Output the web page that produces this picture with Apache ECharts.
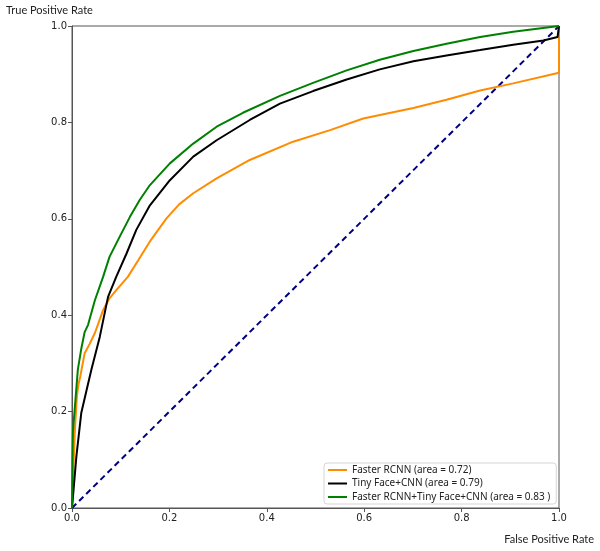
<!DOCTYPE html>
<html>
<head>
<meta charset="utf-8">
<script src="https://cdn.jsdelivr.net/npm/echarts@6/dist/echarts.min.js"></script>
<style>
  html, body { margin: 0; padding: 0; background: #fff; }
  #chart { width: 600px; height: 551px; }
</style>
</head>
<body>
<div id="chart"></div>
<script>
// ROC points: [false positive rate, true positive rate]
const rocFaster = [
  [0, 0], [0.002, 0.059], [0.006, 0.162], [0.010, 0.231], [0.013, 0.255],
  [0.017, 0.273], [0.026, 0.321], [0.036, 0.340], [0.047, 0.363], [0.064, 0.411],
  [0.077, 0.435], [0.091, 0.452], [0.115, 0.480], [0.136, 0.514], [0.160, 0.553],
  [0.194, 0.601], [0.220, 0.630], [0.249, 0.653], [0.297, 0.684], [0.365, 0.722],
  [0.454, 0.760], [0.530, 0.784], [0.598, 0.808], [0.701, 0.830], [0.769, 0.847],
  [0.838, 0.866], [0.906, 0.881], [1.0, 0.903], [1.0, 1.0]
]
const rocTiny = [
  [0, 0], [0.009, 0.107], [0.019, 0.197], [0.030, 0.245], [0.040, 0.288],
  [0.057, 0.355], [0.074, 0.438], [0.091, 0.480], [0.112, 0.528], [0.132, 0.577],
  [0.160, 0.628], [0.201, 0.680], [0.249, 0.729], [0.297, 0.763], [0.365, 0.805],
  [0.427, 0.839], [0.495, 0.865], [0.564, 0.889], [0.632, 0.910], [0.701, 0.927],
  [0.769, 0.939], [0.838, 0.950], [0.906, 0.961], [0.968, 0.970], [0.997, 0.977],
  [1.0, 1.0]
]
const rocCombined = [
  [0, 0], [0.001, 0.100], [0.002, 0.160], [0.006, 0.211], [0.012, 0.287],
  [0.019, 0.330], [0.026, 0.365], [0.033, 0.380], [0.047, 0.431], [0.064, 0.480],
  [0.077, 0.521], [0.098, 0.563], [0.119, 0.604], [0.139, 0.639], [0.160, 0.670],
  [0.201, 0.715], [0.249, 0.756], [0.297, 0.791], [0.351, 0.820], [0.427, 0.855],
  [0.495, 0.882], [0.564, 0.908], [0.632, 0.930], [0.701, 0.948], [0.769, 0.963],
  [0.838, 0.977], [0.906, 0.988], [1.0, 1.0]
]
const chanceLine = [[0, 0], [1, 1]]
const seriesNames = [
  'Faster RCNN (area = 0.72)',
  'Tiny Face+CNN (area = 0.79)',
  'Faster RCNN+Tiny Face+CNN (area = 0.83 )'
]

const tickFont = { fontFamily: 'DejaVu Sans', fontSize: 10, color: '#222' }
const labelFont = { fontFamily: 'Lato', fontSize: 11, fill: '#222' }

function rocSeries(name, data, color) {
  return {
    name, type: 'line', data,
    showSymbol: false, symbol: 'none',
    lineStyle: { color, width: 2 },
    itemStyle: { color },
    z: 3
  }
}

const chart = echarts.init(document.getElementById('chart'))
chart.setOption({
  animation: false,
  grid: {
    left: 72, right: 41, top: 26, bottom: 43,
    show: true, borderColor: '#555', borderWidth: 1
  },
  xAxis: {
    type: 'value', min: 0, max: 1, interval: 0.2,
    splitLine: { show: false },
    axisLine: { lineStyle: { color: '#555' } },
    axisTick: { length: 4, lineStyle: { color: '#555' } },
    axisLabel: Object.assign({ margin: 5, formatter: v => v.toFixed(1) }, tickFont)
  },
  yAxis: {
    type: 'value', min: 0, max: 1, interval: 0.2,
    splitLine: { show: false },
    axisLine: { show: true, lineStyle: { color: '#555' } },
    axisTick: { show: true, length: 4, lineStyle: { color: '#555' } },
    axisLabel: Object.assign({ margin: 5, formatter: v => v.toFixed(1) }, tickFont)
  },
  legend: {
    data: seriesNames,
    orient: 'vertical',
    left: 324, top: 463,
    icon: 'rect', itemWidth: 19, itemHeight: 2, itemGap: 1.5,
    padding: [1, 6, 1, 4],
    borderColor: '#d5d5d5', borderWidth: 1, borderRadius: 3,
    backgroundColor: 'rgba(255,255,255,0.85)',
    textStyle: { fontFamily: 'Noto Sans', fontSize: 10, color: '#222', lineHeight: 12 }
  },
  graphic: [
    { type: 'text', left: 6, top: 5, style: Object.assign({ text: 'True Positive Rate' }, labelFont) },
    { type: 'text', right: 6, top: 534, style: Object.assign({ text: 'False Positive Rate' }, labelFont) }
  ],
  series: [
    rocSeries(seriesNames[0], rocFaster, '#ff8c00'),
    rocSeries(seriesNames[1], rocTiny, '#000000'),
    rocSeries(seriesNames[2], rocCombined, '#008000'),
    {
      name: 'chance', type: 'line', data: chanceLine,
      showSymbol: false, symbol: 'none',
      lineStyle: { color: '#000080', width: 2, type: [6, 4] },
      z: 2
    }
  ]
})
</script>
</body>
</html>
